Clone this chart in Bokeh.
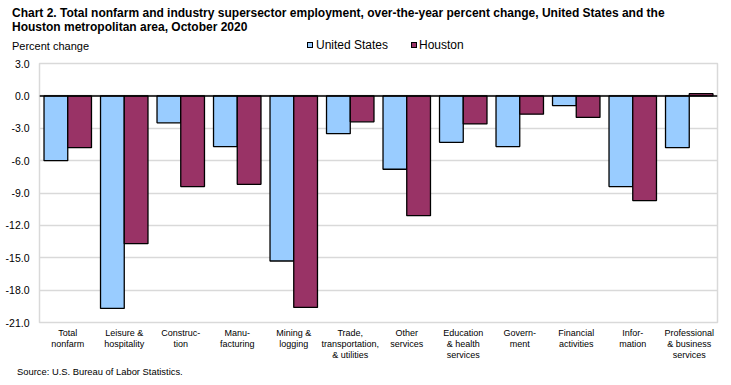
from bokeh.plotting import figure
from bokeh.models import (ColumnDataSource, Range1d, FixedTicker, PrintfTickFormatter,
                          Span, FactorRange, Div)
from bokeh.layouts import column
from bokeh.transform import dodge
from bokeh.embed import file_html
from bokeh.resources import INLINE

categories = ["Total\nnonfarm", "Leisure &\nhospitality", "Construc-\ntion", "Manu-\nfacturing",
              "Mining &\nlogging", "Trade,\ntransportation,\n& utilities", "Other\nservices",
              "Education\n& health\nservices", "Govern-\nment", "Financial\nactivities",
              "Infor-\nmation", "Professional\n& business\nservices"]
us_values = [-6.0, -19.7, -2.5, -4.7, -15.3, -3.5, -6.8, -4.3, -4.7, -0.9, -8.4, -4.8]
houston_values = [-4.8, -13.7, -8.4, -8.2, -19.6, -2.4, -11.1, -2.6, -1.7, -2.0, -9.7, 0.2]
y_ticks = [3.0, 0.0, -3.0, -6.0, -9.0, -12.0, -15.0, -18.0, -21.0]
series_names = ["United States", "Houston"]
title_lines = ["Chart 2. Total nonfarm and industry supersector employment, over-the-year percent change, United States and the",
               "Houston metropolitan area, October 2020"]
source_note = "Source: U.S. Bureau of Labor Statistics."
y_title = "Percent change"

US_COLOR = "#99ccff"
HOU_COLOR = "#993366"
GRID = "#d9d9d9"
FONT = "Liberation Sans"
CSS_FONT = "'Liberation Sans', Arial, sans-serif"

src = ColumnDataSource(dict(cat=categories, us=us_values, hou=houston_values))

p = figure(x_range=FactorRange(*categories), y_range=Range1d(-21, 3),
           width=731, height=306, output_backend="svg", toolbar_location=None,
           min_border_left=39, min_border_right=14, min_border_top=7, min_border_bottom=40,
           margin=0)

r_us = p.vbar(x=dodge("cat", -0.21, range=p.x_range), top="us", bottom=0, width=0.42, source=src,
              fill_color=US_COLOR, line_color="black", line_width=1.3)
r_hou = p.vbar(x=dodge("cat", 0.21, range=p.x_range), top="hou", bottom=0, width=0.42, source=src,
               fill_color=HOU_COLOR, line_color="black", line_width=1.3)

p.add_layout(Span(location=0, dimension="width", line_color="black", line_width=1.5))

p.outline_line_color = GRID
p.outline_line_width = 1.5
p.xgrid.grid_line_color = None
p.ygrid.grid_line_color = GRID
p.ygrid.grid_line_width = 1.5
p.yaxis.ticker = FixedTicker(ticks=y_ticks)
p.yaxis.formatter = PrintfTickFormatter(format="%.1f")
for ax in (p.xaxis[0], p.yaxis[0]):
    ax.axis_line_color = None
    ax.major_tick_line_color = None
    ax.minor_tick_line_color = None
    ax.major_tick_out = 0
    ax.major_tick_in = 0
    ax.major_label_text_color = "black"
    ax.major_label_text_font = FONT
p.yaxis.major_label_text_font_size = "10.5px"
p.yaxis.major_label_standoff = 10
p.xaxis.major_label_text_font_size = "9px"
p.xaxis.major_label_standoff = 5
p.xaxis.major_label_text_line_height = 1.1


def txt(s, left, top, size, bold=False):
    w = "bold" if bold else "normal"
    return (f'<div style="position:absolute;left:{left}px;top:{top}px;font-size:{size}px;'
            f'line-height:{size}px;font-weight:{w};white-space:nowrap;">{s}</div>')


def swatch(color, left, top):
    return (f'<div style="position:absolute;left:{left}px;top:{top}px;width:6px;height:6px;'
            f'box-sizing:border-box;border:1px solid #000;background:{color};"></div>')


header_html = (f'<div style="position:relative;width:731px;height:56px;font-family:{CSS_FONT};color:#000;">'
               + txt(title_lines[0], 12, 6.8, 12, True)
               + txt(title_lines[1], 12, 20.6, 12, True)
               + txt(y_title, 12, 41.4, 11)
               + swatch(US_COLOR, 306.5, 42.3)
               + txt(series_names[0], 316, 38.8, 12)
               + swatch(HOU_COLOR, 411, 42.3)
               + txt(series_names[1], 419, 38.8, 12)
               + '</div>')
footer_html = (f'<div style="position:relative;width:731px;height:23px;font-family:{CSS_FONT};color:#000;">'
               + txt(source_note, 17, 5, 9.4)
               + '</div>')

header = Div(text=header_html, width=731, height=56, margin=0)
footer = Div(text=footer_html, width=731, height=23, margin=0)

layout = column(header, p, footer, spacing=0, margin=0)

open("out.html", "w").write(file_html(layout, INLINE))
